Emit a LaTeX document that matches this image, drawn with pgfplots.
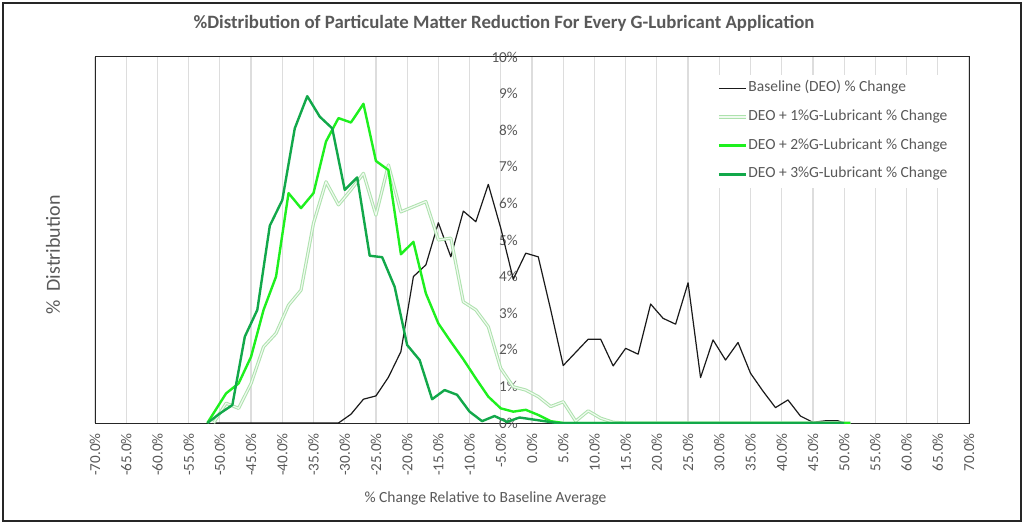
\documentclass[border=0pt]{standalone}
\usepackage{fontspec}
\setmainfont{Carlito}
\usepackage{pgfplots}
\pgfplotsset{compat=1.18}
\definecolor{txt}{HTML}{595959}
\definecolor{gridc}{HTML}{DDDDDD}
\definecolor{limeg}{HTML}{1EF01E}
\definecolor{dkgreen}{HTML}{12A84A}
\definecolor{pale}{HTML}{ADE2AD}
\definecolor{paleIn}{HTML}{F0FAF0}
\definecolor{basec}{HTML}{1A1A1A}
\begin{document}
\begin{tikzpicture}[x=1pt,y=1pt]
\useasboundingbox (0,0) rectangle (1024,524);
\fill[white] (0,0) rectangle (1024,524);
\draw[line width=1.5pt, black!85] (3,3) rectangle (1021,521);
\begin{axis}[
  at={(95pt,101pt)}, anchor=south west,
  width=874pt, height=366pt, scale only axis,
  xmin=-70, xmax=70, ymin=0, ymax=10,
  xtick={-70,-65,-60,-55,-50,-45,-40,-35,-30,-25,-20,-15,-10,-5,0,5,10,15,20,25,30,35,40,45,50,55,60,65,70},
  xticklabels={-70.0\%,-65.0\%,-60.0\%,-55.0\%,-50.0\%,-45.0\%,-40.0\%,-35.0\%,-30.0\%,-25.0\%,-20.0\%,-15.0\%,-10.0\%,-5.0\%,0.0\%,5.0\%,10.0\%,15.0\%,20.0\%,25.0\%,30.0\%,35.0\%,40.0\%,45.0\%,50.0\%,55.0\%,60.0\%,65.0\%,70.0\%},
  ytick={0,1,2,3,4,5,6,7,8,9,10},
  yticklabels={0\%,1\%,2\%,3\%,4\%,5\%,6\%,7\%,8\%,9\%,10\%},
  major tick length=0pt,
  xmajorgrids, major grid style={gridc, line width=1.2pt},
  axis line style={black!85, line width=1pt},
  xticklabel style={rotate=90, anchor=east, inner sep=0pt, font=\fontsize{15.2}{18}\selectfont, text=txt},
  xticklabel shift=10pt,
  yticklabel style={anchor=east, inner sep=0pt, xshift=423pt, font=\fontsize{15.2}{18}\selectfont, text=txt},
  title={\%Distribution of Particulate Matter Reduction For Every G-Lubricant Application},
  title style={at={(axis description cs:0.468,1.0765)}, anchor=center, font=\bfseries\fontsize{18.8}{22}\selectfont, text=txt},
  xlabel={\% Change Relative to Baseline Average},
  xlabel style={at={(axis description cs:0.4468,-0.205)}, anchor=center, font=\fontsize{15.5}{18}\selectfont, text=txt},
  ylabel={\%\ \ Distribution},
  ylabel style={at={(axis description cs:-0.048,0.459)}, anchor=center, font=\fontsize{20}{24}\selectfont, text=txt},
  legend style={draw=none, fill=white, at={(0.7094,0.952)}, anchor=north west,
    font=\fontsize{15.5}{18}\selectfont, text=txt, inner xsep=2pt, inner ysep=6pt,
    row sep=13.7pt, column sep=0pt, nodes={inner sep=1pt, text height=10pt, text depth=3pt}},
  legend cell align=left,
  legend image code/.code={\draw[#1] (0pt,0pt) -- (27pt,0pt);},
  every axis plot/.append style={line join=round},
]
\addplot[basec, line width=1.2pt] coordinates {
(-51,0) (-49,0) (-47,0) (-45,0) (-43,0) (-41,0) (-39,0) (-37,0) (-35,0) (-33,0) (-31,0)
(-29,0.24) (-27,0.65) (-25,0.74) (-23,1.25) (-21,1.95) (-19,4.00) (-17,4.32) (-15,5.47)
(-13,4.54) (-11,5.79) (-9,5.50) (-7,6.52) (-5,5.32) (-3,3.93) (-1,4.64) (1,4.54) (3,3.09)
(5,1.57) (7,1.93) (9,2.29) (11,2.29) (13,1.56) (15,2.04) (17,1.88) (19,3.25) (21,2.86)
(23,2.70) (25,3.83) (27,1.24) (29,2.27) (31,1.72) (33,2.20) (35,1.36) (37,0.87) (39,0.42)
(41,0.63) (43,0.19) (45,0.02) (47,0.06) (49,0.06) (50,0)
};
\addlegendentry{Baseline (DEO) \% Change}
\addplot[draw=pale, double=paleIn, double distance=1.2pt, line width=1pt] coordinates {
(-51,0) (-49,0.54) (-47,0.40) (-45,1.08) (-43,2.08) (-41,2.45) (-39,3.22) (-37,3.63)
(-35,5.46) (-33,6.59) (-31,5.96) (-29,6.37) (-27,6.82) (-25,5.68) (-23,7.05) (-21,5.77)
(-19,5.91) (-17,6.05) (-15,5.00) (-13,5.05) (-11,3.31) (-9,3.09) (-7,2.63) (-5,1.49)
(-3,0.99) (-1,0.90) (1,0.72) (3,0.45) (5,0.58) (7,0.05) (9,0.33) (11,0.13) (13,0.02)
(15,0) (17,0) (19,0) (21,0) (23,0) (25,0) (27,0) (29,0) (31,0) (33,0) (35,0) (37,0)
(39,0) (41,0) (43,0) (45,0) (47,0) (49,0) (51,0)
};
\addlegendentry{DEO + 1\%G-Lubricant \% Change}
\addplot[limeg, line width=2.4pt] coordinates {
(-52,0) (-49,0.81) (-47,1.08) (-45,1.81) (-43,3.09) (-41,4.00) (-39,6.28) (-37,5.87)
(-35,6.28) (-33,7.69) (-31,8.33) (-29,8.21) (-27,8.72) (-25,7.16) (-23,6.91) (-21,4.61)
(-19,4.95) (-17,3.54) (-15,2.72) (-13,2.22) (-11,1.74) (-9,1.22) (-7,0.72) (-5,0.40)
(-3,0.31) (-1,0.36) (1,0.22) (3,0.05) (5,0) (7,0) (9,0) (11,0) (13,0) (15,0) (17,0)
(19,0) (21,0) (23,0) (25,0) (27,0) (29,0) (31,0) (33,0) (35,0) (37,0) (39,0) (41,0)
(43,0) (45,0) (47,0) (49,0) (51,0)
};
\addlegendentry{DEO + 2\%G-Lubricant \% Change}
\addplot[dkgreen, line width=2.4pt] coordinates {
(-52,0) (-50,0.26) (-48,0.49) (-46,2.36) (-44,3.09) (-42,5.39) (-40,6.09) (-38,8.05)
(-36,8.93) (-34,8.37) (-32,8.05) (-30,6.37) (-28,6.71) (-26,4.57) (-24,4.53) (-22,3.72)
(-20,2.13) (-18,1.72) (-16,0.65) (-14,0.90) (-12,0.77) (-10,0.31) (-8,0.05) (-6,0.19)
(-4,0.03) (-2,0.15) (0,0.10) (2,0.05) (4,0) (6,0) (8,0) (10,0) (12,0) (14,0) (16,0)
(18,0) (20,0) (22,0) (24,0) (26,0) (28,0) (30,0) (32,0) (34,0) (36,0) (38,0) (40,0)
(42,0) (44,0) (46,0) (48,0) (50,0)
};
\addlegendentry{DEO + 3\%G-Lubricant \% Change}
\end{axis}
\end{tikzpicture}
\end{document}
